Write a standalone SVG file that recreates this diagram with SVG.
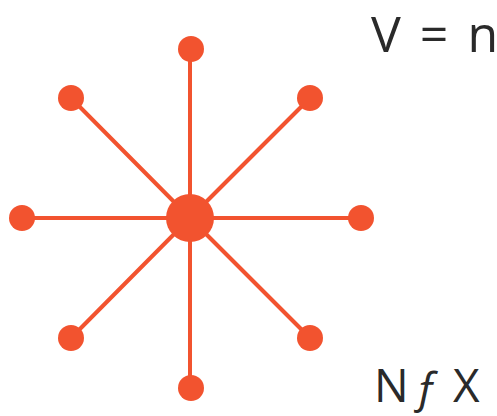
<svg xmlns="http://www.w3.org/2000/svg" width="497" height="416" viewBox="0 0 497 416">
<style>
.e{stroke:#F2532F;stroke-width:4;stroke-linecap:round}
.n{fill:#F2532F}
.t{font-family:"Open Sans","Noto Sans",sans-serif;fill:#2a2a2a}
</style>
<rect width="497" height="416" fill="#fff"/>
<g id="edges">
<line class="e" x1="190" y1="218" x2="190" y2="49"/>
<line class="e" x1="190" y1="218" x2="190" y2="388"/>
<line class="e" x1="190" y1="218" x2="22" y2="218"/>
<line class="e" x1="190" y1="218" x2="361" y2="218"/>
<line class="e" x1="190" y1="218" x2="71" y2="98"/>
<line class="e" x1="190" y1="218" x2="310" y2="98"/>
<line class="e" x1="190" y1="218" x2="71" y2="338"/>
<line class="e" x1="190" y1="218" x2="310" y2="338"/>
</g>
<g id="center"><circle class="n" cx="190" cy="218" r="24"/></g>
<g id="n-top"><circle class="n" cx="191" cy="49" r="13"/></g>
<g id="n-bottom"><circle class="n" cx="191" cy="388" r="13"/></g>
<g id="n-left"><circle class="n" cx="22" cy="218" r="13"/></g>
<g id="n-right"><circle class="n" cx="361" cy="218" r="13"/></g>
<g id="n-tl"><circle class="n" cx="71" cy="98" r="13"/></g>
<g id="n-tr"><circle class="n" cx="310" cy="98" r="13"/></g>
<g id="n-bl"><circle class="n" cx="71" cy="338" r="13"/></g>
<g id="n-br"><circle class="n" cx="310" cy="338" r="13"/></g>
<text class="t" x="371" y="52" font-size="50" word-spacing="6">V = n</text>
<text class="t" y="402" font-size="46"><tspan x="374">N</tspan><tspan x="414" font-style="italic" font-size="44">ƒ</tspan><tspan x="453">X</tspan></text>
</svg>
